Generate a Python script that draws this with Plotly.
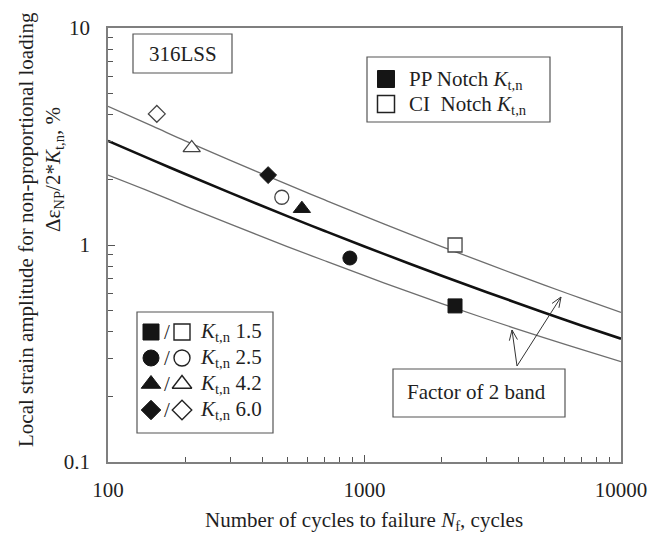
import plotly.graph_objects as go
import math

# ---------------- data ----------------
kt_labels = ["1.5", "2.5", "4.2", "6.0"]
pp_cycles = [2254, 877, 570, 421]          # PP notch (filled)
pp_strain = [0.524, 0.871, 1.47, 2.10]
ci_cycles = [2254, 476, 212, 155]          # CI notch (open)
ci_strain = [1.00, 1.66, 2.80, 4.02]

curve_n = [100, 150, 200, 300, 500, 700, 1000, 1500, 2000, 3000, 5000, 7000, 10000]
mean_curve = [3.02, 2.456, 2.125, 1.739, 1.359, 1.160, 0.984, 0.820, 0.722, 0.606, 0.489, 0.426, 0.370]
upper_curve = [4.36, 3.52, 3.02, 2.456, 1.901, 1.613, 1.359, 1.123, 0.984, 0.820, 0.655, 0.5675, 0.489]
lower_curve = [2.10, 1.739, 1.512, 1.247, 0.984, 0.846, 0.722, 0.606, 0.537, 0.456, 0.374, 0.330, 0.290]

symbols = ["square", "circle", "triangle-up", "diamond"]
sizes = [14, 14, 15, 13]

FONT = "Liberation Serif"
FS = 21
TXT = "#1f1f1f"

# plot area in pixels (for placing annotation boxes)
W, H = 661, 538
L, R, T, B = 108, 621, 28, 462


def px(x):
    return (x - L) / (R - L)


def py(y):
    return (B - y) / (B - T)


fig = go.Figure()

# curves
fig.add_trace(go.Scatter(x=curve_n, y=upper_curve, mode="lines", line=dict(color="#6e6e6e", width=1.3, shape="spline")))
fig.add_trace(go.Scatter(x=curve_n, y=lower_curve, mode="lines", line=dict(color="#6e6e6e", width=1.3, shape="spline")))
fig.add_trace(go.Scatter(x=curve_n, y=mean_curve, mode="lines", line=dict(color="#111111", width=2.6, shape="spline")))

# data points
for i in range(4):
    fig.add_trace(go.Scatter(x=[ci_cycles[i]], y=[ci_strain[i]], mode="markers",
                             marker=dict(symbol=symbols[i], size=sizes[i], color="white",
                                         line=dict(color="#444444", width=1.3))))
    fig.add_trace(go.Scatter(x=[pp_cycles[i]], y=[pp_strain[i]], mode="markers",
                             marker=dict(symbol=symbols[i], size=sizes[i], color="#151515",
                                         line=dict(color="#151515", width=1))))

# legend keys on an overlay axis in paper-like units
leg_rows = [332, 358, 384, 410]
for i, yy in enumerate(leg_rows):
    fig.add_trace(go.Scatter(x=[px(151)], y=[py(yy)], mode="markers", xaxis="x2", yaxis="y2",
                             marker=dict(symbol=symbols[i], size=sizes[i] + 2, color="#151515",
                                         line=dict(color="#151515", width=1))))
    fig.add_trace(go.Scatter(x=[px(182)], y=[py(yy)], mode="markers", xaxis="x2", yaxis="y2",
                             marker=dict(symbol=symbols[i], size=sizes[i] + 2, color="white",
                                         line=dict(color="#222222", width=1.4))))
fig.add_trace(go.Scatter(x=[px(386)], y=[py(79)], mode="markers", xaxis="x2", yaxis="y2",
                         marker=dict(symbol="square", size=17, color="#151515", line=dict(color="#151515", width=1))))
fig.add_trace(go.Scatter(x=[px(386)], y=[py(104)], mode="markers", xaxis="x2", yaxis="y2",
                         marker=dict(symbol="square", size=17, color="white", line=dict(color="#222222", width=1.5))))

shapes = []
annotations = []


def box(x0, y0, x1, y1):
    shapes.append(dict(type="rect", xref="paper", yref="paper", x0=px(x0), x1=px(x1), y0=py(y1), y1=py(y0),
                       line=dict(color="#555555", width=1.2), fillcolor="rgba(0,0,0,0)", layer="above"))


def text(x, y, s, xanchor="left", size=FS, angle=0):
    annotations.append(dict(xref="paper", yref="paper", x=px(x), y=py(y), text=s, showarrow=False,
                            xanchor=xanchor, yanchor="middle", textangle=angle,
                            font=dict(family=FONT, size=size, color=TXT)))


def seg(x0, y0, x1, y1):
    shapes.append(dict(type="line", xref="paper", yref="paper", x0=px(x0), y0=py(y0), x1=px(x1), y1=py(y1),
                       line=dict(color="#333333", width=1), layer="above"))


box(133, 34, 232, 73)
text(183, 54, "316LSS", xanchor="center")

box(367, 57, 550, 122)
text(407, 80, "PP Notch <i>K</i><sub>t,n</sub>")
text(407, 105, "CI  Notch <i>K</i><sub>t,n</sub>")

box(137, 312, 273, 433)
for i, yy in enumerate(leg_rows):
    text(167, yy, "/", xanchor="center")
    text(198, yy, "<i>K</i><sub>t,n</sub> " + kt_labels[i])

box(393, 369, 565, 417)
text(476, 392, "Factor of 2 band", xanchor="center")

# arrows
apex = (517, 366)
for tip in [(512, 330), (561, 297)]:
    seg(apex[0], apex[1], tip[0], tip[1])
    ang = math.atan2(apex[1] - tip[1], apex[0] - tip[0])
    for d in (0.38, -0.38):
        seg(tip[0], tip[1], tip[0] + 11 * math.cos(ang + d), tip[1] + 11 * math.sin(ang + d))

# axis titles
text(26, 230, "Local strain amplitude for non-proportional loading", xanchor="center", angle=-90)
text(54, 170, "Δε<sub>NP</sub>/2*<i>K</i><sub>t,n</sub>, %", xanchor="center", angle=-90)
text(364, 521, "Number of cycles to failure <i>N</i><sub>f</sub>, cycles", xanchor="center")

axis_common = dict(type="log", showline=True, linecolor="#7f7f7f", linewidth=1.5, mirror=True,
                   ticks="inside", ticklen=7, tickcolor="#555555", tickwidth=1, showgrid=False, zeroline=False,
                   tickfont=dict(family=FONT, size=FS, color=TXT), tickmode="array")

fig.update_layout(
    width=W, height=H, margin=dict(l=L, r=W - R, t=T, b=H - B),
    paper_bgcolor="white", plot_bgcolor="white", showlegend=False,
    xaxis=dict(axis_common, range=[2, 4], tickvals=[100, 1000, 10000], ticktext=["100", "1000", "10000"],
               ticklabelstandoff=8,
               minor=dict(tickmode="array", tickvals=[200, 300, 400, 500, 600, 700, 800, 900,
                                                      2000, 3000, 4000, 5000, 6000, 7000, 8000, 9000],
                          ticks="inside", ticklen=5, tickcolor="#555555", showgrid=False)),
    yaxis=dict(axis_common, range=[-1, 1], tickvals=[0.1, 1, 10], ticktext=["0.1", "1", "10"],
               ticklabelstandoff=12,
               minor=dict(tickmode="array", tickvals=[0.2, 0.3, 0.4, 0.5, 0.6, 0.7, 0.8, 0.9,
                                                      2, 3, 4, 5, 6, 7, 8, 9],
                          ticks="inside", ticklen=5, tickcolor="#555555", showgrid=False)),
    xaxis2=dict(overlaying="x", range=[0, 1], visible=False, anchor="y2"),
    yaxis2=dict(overlaying="y", range=[0, 1], visible=False, anchor="x2"),
    shapes=shapes, annotations=annotations,
)

fig.write_html("out.html")
